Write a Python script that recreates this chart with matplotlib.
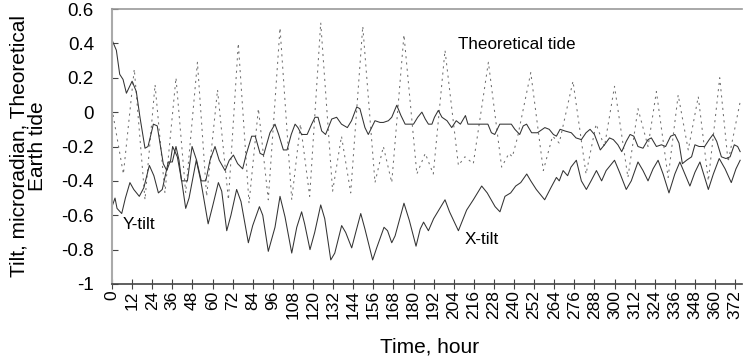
import matplotlib
matplotlib.use("Agg")
import matplotlib.pyplot as plt

plt.rcParams["font.family"] = ["Liberation Sans", "DejaVu Sans"]

# values (hours, microradian)
tide_h = [0, 6.8, 13.3, 19.7, 25.7, 31.6, 38.2, 44, 51, 56.5, 63, 69.5, 75.4, 81.8,
          87.4, 93.3, 100.3, 107.3, 112.5, 118, 124.6, 131.7, 137, 142.5, 149.7, 157,
          162, 167, 174.3, 182, 187, 191.8, 198.8, 206.8, 210.7, 215.7, 224.7, 232.6,
          237, 239, 242, 250, 257.5, 263, 267, 275.2, 283, 289, 294, 300, 308, 314,
          320, 325, 332, 338, 344, 350, 356, 362.8, 367.8, 375]
tide_v = [0.02, -0.36, 0.25, -0.51, 0.16, -0.47, 0.20, -0.47, 0.29, -0.49, 0.13, -0.51,
          0.40, -0.53, 0.02, -0.51, 0.49, -0.51, -0.07, -0.49, 0.52, -0.46, -0.14, -0.47,
          0.50, -0.41, -0.20, -0.41, 0.45, -0.36, -0.24, -0.36, 0.36, -0.31, -0.26,
          -0.30, 0.29, -0.32, -0.24, -0.26, -0.15, 0.23, -0.34, -0.14, -0.18, 0.18,
          -0.36, -0.07, -0.20, 0.15, -0.38, 0.02, -0.20, 0.12, -0.38, 0.10, -0.22, 0.09,
          -0.40, 0.20, -0.29, 0.06]

xtilt_h = [0, 2.6, 4.6, 6.6, 8.6, 12, 14.5, 16.7, 19.7, 21.5, 23, 24.7, 27, 30.6, 32.7,
           35, 36.2, 39, 41.6, 44, 46, 50.3, 53, 57.4, 60, 63.5, 65.5, 68.5, 71, 74.4,
           77, 81.4, 84, 88, 90, 93.3, 97.3, 100.3, 103.3, 107.3, 110.3, 113.2, 115,
           118.2, 121, 124.6, 127, 130.6, 133, 137.1, 139.5, 143.1, 145.5, 148.5, 151,
           155.6, 158, 162.4, 164.5, 167, 169, 174.3, 177.5, 181.5, 184, 186, 188.9,
           192, 198.8, 201.5, 206.8, 211.7, 215.7, 220.7, 224, 228.7, 231.6, 234.6,
           238, 241, 244, 247.6, 250, 253.3, 258.3, 262, 265.3, 267, 269.3, 272, 274,
           277.2, 280.2, 283.2, 286, 289.2, 292.3, 295, 300, 303, 307, 310, 314, 317,
           320, 323, 326, 329, 332.5, 336, 339, 342, 345, 348, 351, 353.5, 356, 359,
           362.5, 366, 369.7, 372.5, 375]
xtilt_v = [0.42, 0.36, 0.22, 0.19, 0.11, 0.18, 0.12, -0.03, -0.21, -0.20, -0.14, -0.07,
           -0.08, -0.30, -0.34, -0.28, -0.20, -0.26, -0.40, -0.56, -0.50, -0.28, -0.40,
           -0.65, -0.55, -0.41, -0.46, -0.69, -0.60, -0.45, -0.52, -0.76, -0.66, -0.55,
           -0.60, -0.81, -0.67, -0.49, -0.61, -0.82, -0.67, -0.58, -0.65, -0.80, -0.70,
           -0.54, -0.62, -0.86, -0.82, -0.66, -0.70, -0.79, -0.70, -0.59, -0.68, -0.86,
           -0.79, -0.67, -0.69, -0.76, -0.72, -0.53, -0.63, -0.78, -0.68, -0.64, -0.69,
           -0.62, -0.51, -0.58, -0.69, -0.57, -0.51, -0.43, -0.47, -0.55, -0.58, -0.49,
           -0.47, -0.43, -0.41, -0.36, -0.40, -0.45, -0.51, -0.44, -0.38, -0.40, -0.34,
           -0.37, -0.32, -0.28, -0.40, -0.45, -0.40, -0.34, -0.40, -0.34, -0.28, -0.35,
           -0.45, -0.40, -0.29, -0.34, -0.40, -0.33, -0.28, -0.36, -0.47, -0.36, -0.29,
           -0.36, -0.43, -0.35, -0.29, -0.37, -0.45, -0.36, -0.27, -0.33, -0.41, -0.33,
           -0.28]

ytilt_h = [0, 1.8, 3, 5.8, 8, 10.7, 13, 16.3, 19, 22.3, 25, 27.7, 30, 33.6, 36, 38.2,
           40, 41.5, 45, 47.8, 50.5, 53.3, 56, 58.5, 61.5, 64, 67.5, 70, 72.5, 75, 78,
           80, 83.4, 85.5, 88.4, 90.5, 94.3, 97.3, 99.5, 102.3, 104.5, 107, 109.3, 111,
           113.2, 116.5, 119.2, 121.2, 123, 125.2, 127.5, 131.2, 134.1, 137, 140.5, 143,
           146.1, 148, 151, 153, 157, 160, 162, 165, 167, 170, 172.5, 175, 180, 182.5,
           185, 187, 188.9, 191, 192.5, 194.8, 197, 200, 202.8, 205.5, 208, 211, 212.5,
           224.4, 226.5, 228.5, 230.5, 231.5, 238.4, 240.5, 243.4, 245.5, 247.5, 250.5,
           254, 258.4, 261, 263.5, 265.3, 267.5, 270.5, 274.2, 277, 280.2, 283, 285.4,
           288, 291.5, 294, 297, 299.3, 302, 304.3, 307, 309.3, 311.5, 314, 317, 320,
           322, 325, 328, 330.5, 333.5, 336, 338.5, 340.5, 343, 346, 348, 350.5, 353.8,
           356.5, 358.8, 361, 363.8, 366.5, 369, 371.5, 373.5, 375]
ytilt_v = [-0.55, -0.50, -0.56, -0.59, -0.50, -0.41, -0.45, -0.49, -0.44, -0.31, -0.37,
           -0.47, -0.45, -0.29, -0.29, -0.20, -0.28, -0.40, -0.40, -0.20, -0.28, -0.40,
           -0.40, -0.28, -0.20, -0.28, -0.34, -0.28, -0.25, -0.30, -0.33, -0.25, -0.14,
           -0.14, -0.24, -0.25, -0.12, -0.07, -0.13, -0.22, -0.22, -0.13, -0.07, -0.09,
           -0.13, -0.13, -0.07, -0.03, -0.03, -0.11, -0.13, -0.04, -0.03, -0.07, -0.09,
           -0.05, 0.03, 0.02, -0.09, -0.13, -0.05, -0.06, -0.06, -0.05, -0.03, 0.04,
           -0.02, -0.07, -0.07, -0.03, 0.00, -0.04, -0.07, -0.07, -0.03, 0.01, -0.03,
           -0.05, -0.09, -0.05, -0.07, -0.02, -0.07, -0.07, -0.12, -0.13, -0.09, -0.07,
           -0.07, -0.10, -0.13, -0.08, -0.07, -0.12, -0.12, -0.09, -0.10, -0.13, -0.14,
           -0.10, -0.11, -0.12, -0.15, -0.16, -0.12, -0.10, -0.13, -0.22, -0.19, -0.15,
           -0.16, -0.19, -0.23, -0.17, -0.13, -0.14, -0.20, -0.21, -0.16, -0.15, -0.20,
           -0.19, -0.20, -0.14, -0.13, -0.18, -0.30, -0.28, -0.26, -0.19, -0.20, -0.20,
           -0.16, -0.13, -0.17, -0.26, -0.27, -0.26, -0.19, -0.20, -0.23]

x_ticks = list(range(0, 373, 12))
y_ticks = [-1, -0.8, -0.6, -0.4, -0.2, 0, 0.2, 0.4, 0.6]
y_tick_labels = ["-1", "-0.8", "-0.6", "-0.4", "-0.2", "0", "0.2", "0.4", "0.6"]

fig = plt.figure(figsize=(7.43, 3.62), dpi=100)
ax = fig.add_axes([112 / 743, 78 / 362, 630 / 743, 275 / 362])

# theoretical tide: thin, sparse dashes
ax.plot(tide_h, tide_v, color="#707070", lw=0.75, ls=(0, (2, 4)))
ax.plot(xtilt_h, xtilt_v, color="#333333", lw=0.75)
ax.plot(ytilt_h, ytilt_v, color="#333333", lw=0.75)

ax.set_xlim(0, 376.1)
ax.set_ylim(-1, 0.6)
ax.set_xticks(x_ticks)
ax.set_xticklabels([str(t) for t in x_ticks], rotation=90, fontsize=12.5)
ax.set_yticks(y_ticks)
ax.set_yticklabels(y_tick_labels, fontsize=13.5)

ax.spines["right"].set_visible(False)
ax.spines["top"].set_color("#999999")
ax.spines["top"].set_linewidth(1.2)
ax.spines["left"].set_color("#aaaaaa")
ax.spines["left"].set_linewidth(1.5)
ax.spines["bottom"].set_color("#444444")
ax.spines["bottom"].set_linewidth(1.2)
ax.tick_params(axis="x", direction="inout", length=7, width=0.8, color="#444444", pad=1)
ax.tick_params(axis="y", direction="in", length=4, width=0.8, color="#444444", pad=13)

ax.text(206.6, 0.396, "Theoretical tide", fontsize=12.3, va="center", ha="left")
ax.text(6.6, -0.651, "Y-tilt", fontsize=12.3, va="center", ha="left")
ax.text(210.6, -0.744, "X-tilt", fontsize=12.3, va="center", ha="left")

fig.text(28 / 743, 1 - 146 / 362, "Tilt, microradian, Theoretical\nEarth tide",
         rotation=90, ha="center", va="center", multialignment="center",
         fontsize=15, linespacing=0.95)
fig.text(430 / 743, 1 - 347 / 362, "Time, hour", ha="center", va="center", fontsize=15)

fig.savefig("out.png", dpi=100)
